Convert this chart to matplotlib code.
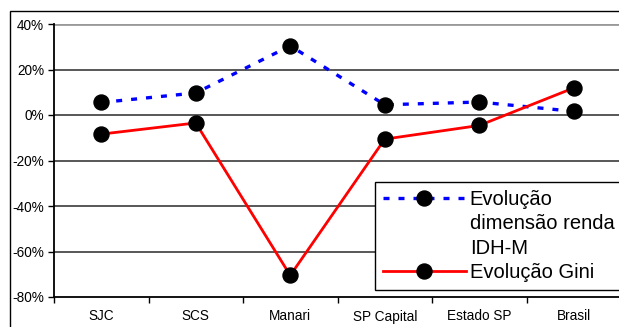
import matplotlib
matplotlib.use("Agg")
import matplotlib.pyplot as plt
from matplotlib.lines import Line2D
from matplotlib.patches import Rectangle
from matplotlib.ticker import FixedLocator, FuncFormatter

plt.rcParams['font.family'] = ['Liberation Sans', 'DejaVu Sans']

# Data (percent change)
categories = ['SJC', 'SCS', 'Manari', 'SP Capital', 'Estado SP', 'Brasil']
idh_renda = [5.5, 9.7, 30.4, 4.5, 5.7, 1.6]
gini = [-8.4, -3.5, -70.5, -10.6, -4.6, 11.9]
y_ticks = [-80, -60, -40, -20, 0, 20, 40]

W, H = 619, 327
fig = plt.figure(figsize=(W / 100, H / 100), dpi=100)

# outer chart frame
fig.patches.append(Rectangle((10 / W, -0.2), 2.0, (H - 11) / H + 0.2,
                             transform=fig.transFigure, fill=False,
                             ec='black', lw=1.0))

left, right, top, bottom = 54, 621, 24, 297
ax = fig.add_axes([left / W, (H - bottom) / H, (right - left) / W, (bottom - top) / H])

x = list(range(len(categories)))
ax.set_xlim(-0.5, len(categories) - 0.5)
ax.set_ylim(-80, 40)

# horizontal gridlines
for v in y_ticks[1:-1]:
    ax.axhline(v, color='#4a4a4a', lw=1.3, zorder=1)
ax.axhline(40, color='#999999', lw=2.0, zorder=1)

blue_style = dict(color='#0000ff', lw=2.4, linestyle=(0, (1.8, 2.7)),
                  marker='o', markersize=10.8, markerfacecolor='black',
                  markeredgecolor='black')
red_style = dict(color='#ff0000', lw=2.0, marker='o', markersize=10.8,
                 markerfacecolor='black', markeredgecolor='black')

ax.plot(x, idh_renda, zorder=3, **blue_style)
ax.plot(x, gini, zorder=4, **red_style)

for s in ['top', 'right']:
    ax.spines[s].set_visible(False)
for s in ['left', 'bottom']:
    ax.spines[s].set_color('black')
    ax.spines[s].set_linewidth(1.3)

ax.set_yticks(y_ticks)
ax.yaxis.set_major_formatter(FuncFormatter(lambda v, p: f'{int(v)}%'))
ax.tick_params(axis='y', direction='out', length=4, width=1, pad=3,
               labelsize=9.8, colors='black')

ax.set_xticks(x)
ax.set_xticklabels(categories)
ax.tick_params(axis='x', which='major', length=0, pad=9, labelsize=9.8)
ax.xaxis.set_minor_locator(FixedLocator([i - 0.5 for i in range(len(categories) + 1)]))
ax.tick_params(axis='x', which='minor', direction='out', length=4, width=1)

handles = [
    Line2D([], [], **blue_style),
    Line2D([], [], linestyle='none'),
    Line2D([], [], linestyle='none'),
    Line2D([], [], **red_style),
]
labels = ['Evolução', 'dimensão renda', 'IDH-M', 'Evolução Gini']
leg = fig.legend(handles, labels, loc='upper left',
                 bbox_to_anchor=(375 / W, (H - 182) / H),
                 bbox_transform=fig.transFigure, borderaxespad=0,
                 fontsize=14.5, frameon=True, fancybox=False, shadow=False,
                 handlelength=4.1, handletextpad=0.2, labelspacing=0.26,
                 borderpad=0.4, numpoints=1)
leg.get_frame().set_edgecolor('black')
leg.get_frame().set_linewidth(1.0)
leg.get_frame().set_facecolor('white')
leg.get_frame().set_alpha(1)

fig.savefig('out.png', dpi=100)
